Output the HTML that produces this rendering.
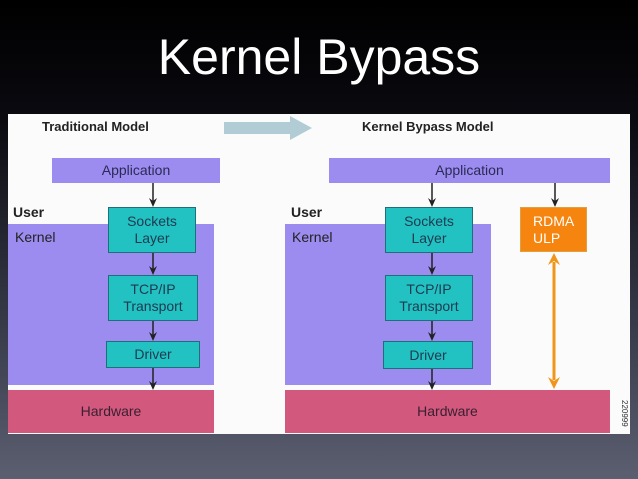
<!DOCTYPE html>
<html><head><style>
body{margin:0;width:638px;height:479px;overflow:hidden;background:linear-gradient(#000 0%,#0a0a10 25%,#3a3d4c 70%,#5c5f70 100%);font-family:"Liberation Sans",sans-serif;position:relative}
.a{position:absolute}
.t{color:#fff;font-size:50px;left:0;width:638px;text-align:center;top:28px}
.panel{left:8px;top:114px;width:622px;height:320px;background:#fbfbfb}
.pur{background:#9c8cf0}
.box{background:#23c2c2;border:1.5px solid #1f6e7a;box-sizing:border-box;text-align:center;font-size:14px;color:#1d3a50;line-height:17px;display:flex;align-items:center;justify-content:center}
.hw{background:#d2587e;color:#3a2030;font-size:14px;text-align:center;line-height:43px}
.lbl{font-size:14px;color:#222}
</style></head><body>
<div class="a t">Kernel Bypass</div>
<div class="a panel"></div>
<div class="a lbl" style="left:42px;top:119px;font-weight:bold;font-size:13px">Traditional Model</div>
<div class="a lbl" style="left:362px;top:119px;font-weight:bold;font-size:13px">Kernel Bypass Model</div>
<svg class="a" style="left:222px;top:114px" width="94" height="28"><polygon points="2,8 68,8 68,2 90,14 68,26 68,20 2,20" fill="#b2ccd6"/></svg>
<div class="a pur" style="left:52px;top:158px;width:168px;height:25px;text-align:center;line-height:25px;font-size:14px;color:#2a2a55">Application</div>
<div class="a pur" style="left:329px;top:158px;width:281px;height:25px;text-align:center;line-height:25px;font-size:14px;color:#2a2a55">Application</div>
<div class="a pur" style="left:8px;top:224px;width:206px;height:161px"></div>
<div class="a pur" style="left:285px;top:224px;width:206px;height:161px"></div>
<div class="a lbl" style="left:13px;top:204px;font-weight:bold">User</div>
<div class="a lbl" style="left:15px;top:229px">Kernel</div>
<div class="a lbl" style="left:291px;top:204px;font-weight:bold">User</div>
<div class="a lbl" style="left:292px;top:229px">Kernel</div>
<div class="a hw" style="left:8px;top:390px;width:206px;height:43px">Hardware</div>
<div class="a hw" style="left:285px;top:390px;width:325px;height:43px">Hardware</div>
<div class="a box" style="left:108px;top:207px;width:88px;height:46px">Sockets<br>Layer</div>
<div class="a box" style="left:108px;top:275px;width:90px;height:46px">TCP/IP<br>Transport</div>
<div class="a box" style="left:106px;top:341px;width:94px;height:27px">Driver</div>
<div class="a box" style="left:385px;top:207px;width:88px;height:46px">Sockets<br>Layer</div>
<div class="a box" style="left:385px;top:275px;width:88px;height:46px">TCP/IP<br>Transport</div>
<div class="a box" style="left:383px;top:341px;width:90px;height:28px">Driver</div>
<div class="a box" style="left:520px;top:207px;width:67px;height:45px;background:#f5850f;border-color:#e0a040;color:#fff;justify-content:flex-start;padding-left:12px;text-align:left">RDMA<br>ULP</div>
<svg class="a" style="left:0;top:0" width="638" height="479">
<g stroke="#222" stroke-width="1.5">
<line x1="153" y1="183" x2="153" y2="202"/><line x1="153" y1="253" x2="153" y2="270"/><line x1="153" y1="321" x2="153" y2="336"/><line x1="153" y1="368" x2="153" y2="385"/>
<line x1="432" y1="183" x2="432" y2="202"/><line x1="432" y1="253" x2="432" y2="270"/><line x1="432" y1="321" x2="432" y2="336"/><line x1="432" y1="369" x2="432" y2="385"/>
<line x1="555" y1="183" x2="555" y2="202"/>
</g>
<g fill="#222">
<polygon points="149,198 153,207 157,198 153,201"/><polygon points="149,266 153,275 157,266 153,269"/><polygon points="149,332 153,341 157,332 153,335"/><polygon points="149,381 153,390 157,381 153,384"/>
<polygon points="428,198 432,207 436,198 432,201"/><polygon points="428,266 432,275 436,266 432,269"/><polygon points="428,332 432,341 436,332 432,335"/><polygon points="428,381 432,390 436,381 432,384"/>
<polygon points="551,198 555,207 559,198 555,201"/>
</g>
<line x1="554" y1="262" x2="554" y2="380" stroke="#f0951a" stroke-width="3"/>
<polygon points="548,265 554,253 560,265 554,261" fill="#f0951a"/>
<polygon points="548,377 554,389 560,377 554,381" fill="#f0951a"/>
<text x="622" y="400" font-size="8" fill="#333" transform="rotate(90 622 400)" font-family="Liberation Sans">220999</text>
</svg>
</body></html>
